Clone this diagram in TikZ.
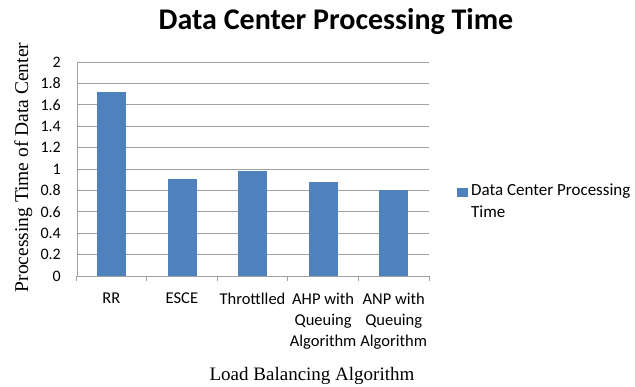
\documentclass[tikz,border=0pt]{standalone}
\usepackage{fontspec}
\setmainfont{Liberation Serif}
\newfontfamily\carlitofont{Carlito}
\definecolor{barblue}{HTML}{4F81BD}
\definecolor{gridgray}{HTML}{A0A0A0}
\begin{document}
\begin{tikzpicture}[x=1pt,y=-1pt,
  bar/.style={fill=barblue,draw=none},
  grid/.style={draw=gridgray,line width=0.8pt},
  ticklab/.style={font=\carlitofont\fontsize{16}{19}\selectfont,anchor=east,inner sep=0pt},
  catlab/.style={font=\carlitofont\fontsize{16.5}{21}\selectfont,align=center,anchor=north,inner sep=0pt}]
\useasboundingbox (0,0) rectangle (635,387);
\node[font=\carlitofont\bfseries\fontsize{30}{34}\selectfont,anchor=base] (title) at (336,30) {Data Center Processing Time};
% grid lines
\foreach \i in {1,...,10} {
  \draw[grid] (77,{276-21.4*\i}) -- (429,{276-21.4*\i});
}
\foreach \i/\l in {0/0,1/0.2,2/0.4,3/0.6,4/0.8,5/1,6/1.2,7/1.4,8/1.6,9/1.8,10/2} {
  \node[ticklab] (y\i) at (61,{276-21.4*\i}) {\l};
}
% bars
\foreach \k/\v in {0/1.72,1/0.905,2/0.98,3/0.88,4/0.80} {
  \fill[bar] ({76+70.6*\k+21},276) rectangle ({76+70.6*\k+50},{276-107*\v});
}
% axes
\draw[grid] (77,62) -- (77,276);
\draw[grid] (76,276) -- (429,276);
\foreach \k in {0,...,5} {
  \draw[grid] ({76+70.6*\k},276) -- ({76+70.6*\k},281);
}
\node[catlab] (c1) at (111.3,293) {RR};
\node[catlab] (c2) at (181.9,293) {ESCE};
\node[catlab] (c3) at (252.5,293) {Throttlled};
\node[catlab] (c4) at (323.1,293) {AHP with\\Queuing\\Algorithm};
\node[catlab] (c5) at (393.7,293) {ANP with\\Queuing\\Algorithm};
\node[font=\fontsize{19}{22}\selectfont,anchor=base] (xt) at (312,381) {Load Balancing Algorithm};
\node[font=\fontsize{19.5}{23}\selectfont,rotate=90,anchor=base] (yt) at (28,167.5) {Processing Time of Data Center};
% legend
\fill[barblue] (457,188) rectangle (468,197) coordinate (lg);
\node[font=\carlitofont\fontsize{17}{22}\selectfont,align=left,anchor=north west,inner sep=0pt] (lt) at (471,184) {Data Center Processing\\Time};
\end{tikzpicture}
\end{document}
